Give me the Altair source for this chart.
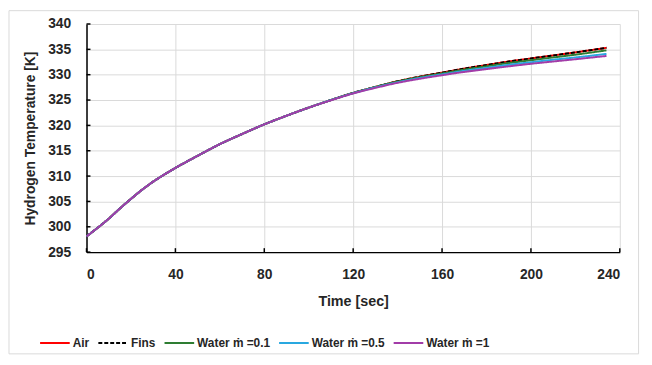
import altair as alt
import pandas as pd

time = [0, 5, 10, 15, 20, 25, 30, 35, 40, 50, 60, 70, 80, 90, 100, 110, 120, 130,
        140, 150, 160, 170, 180, 190, 200, 210, 220, 234]
air = [298.1, 299.8, 301.6, 303.6, 305.5, 307.3, 308.9, 310.3, 311.6, 314.0, 316.3, 318.3,
       320.2, 321.9, 323.5, 325.0, 326.4, 327.6, 328.7, 329.6, 330.4, 331.2, 331.9, 332.6,
       333.2, 333.8, 334.4, 335.3]
fins = [298.1, 299.8, 301.6, 303.6, 305.5, 307.3, 308.9, 310.3, 311.6, 314.0, 316.3, 318.3,
        320.2, 321.9, 323.5, 325.0, 326.4, 327.6, 328.7, 329.6, 330.4, 331.2, 331.9, 332.6,
        333.2, 333.8, 334.4, 335.3]
water_01 = [298.1, 299.8, 301.6, 303.6, 305.5, 307.3, 308.9, 310.3, 311.6, 314.0, 316.3, 318.3,
            320.2, 321.9, 323.5, 325.0, 326.4, 327.6, 328.65, 329.5, 330.25, 331.0, 331.65,
            332.3, 332.85, 333.4, 333.95, 334.8]
water_05 = [298.1, 299.8, 301.6, 303.6, 305.5, 307.3, 308.9, 310.3, 311.6, 314.0, 316.3, 318.3,
            320.2, 321.9, 323.5, 325.0, 326.35, 327.5, 328.5, 329.35, 330.05, 330.75, 331.35,
            331.95, 332.45, 332.95, 333.4, 334.1]
water_1 = [298.1, 299.8, 301.6, 303.6, 305.5, 307.3, 308.9, 310.3, 311.6, 314.0, 316.3, 318.3,
           320.2, 321.9, 323.5, 324.95, 326.3, 327.4, 328.4, 329.2, 329.9, 330.55, 331.1,
           331.65, 332.15, 332.6, 333.05, 333.7]

series_names = ["Air", "Fins", "Water ṁ =0.1", "Water ṁ =0.5", "Water ṁ =1"]
series_values = [air, fins, water_01, water_05, water_1]
series_colors = ["#ff0000", "#000000", "#2e7d32", "#29a8e0", "#a23ca8"]
series_dash = [[1, 0], [4, 2], [1, 0], [1, 0], [1, 0]]

x_ticks = [0, 40, 80, 120, 160, 200, 240]
y_ticks = [295, 300, 305, 310, 315, 320, 325, 330, 335, 340]

rows = []
for name, vals in zip(series_names, series_values):
    for t, v in zip(time, vals):
        rows.append({"series": name, "time": t, "temp": v})
df = pd.DataFrame(rows)

FONT = "Liberation Sans"
W, H = 540, 231

xscale = alt.Scale(domain=[0, 240], nice=False, zero=False)
yscale = alt.Scale(domain=[295, 340], nice=False, zero=False)

xaxis = alt.Axis(values=x_ticks, title="Time [sec]", grid=True, ticks=True, tickSize=0,
                 tickColor="transparent", labelPadding=16, titlePadding=13,
                 domainColor="#000000", domainWidth=1.5, labelOverlap=False,
                 titleFontSize=14.5)
yaxis = alt.Axis(values=y_ticks, title="Hydrogen Temperature [K]", grid=True,
                 ticks=True, tickSize=0, tickColor="transparent", labelPadding=16,
                 titleX=-49.5, titleY=H / 2, titleAlign="center", titleBaseline="bottom",
                 titleAngle=270, domainColor="#000000", domainWidth=1.5,
                 titleFontSize=14, labelOverlap=False)

lines = alt.Chart(df).mark_line(strokeWidth=2, interpolate="monotone").encode(
    x=alt.X("time:Q", scale=xscale, axis=xaxis),
    y=alt.Y("temp:Q", scale=yscale, axis=yaxis),
    color=alt.Color("series:N", scale=alt.Scale(domain=series_names, range=series_colors),
                    legend=alt.Legend(title=None)),
    strokeDash=alt.StrokeDash("series:N",
                              scale=alt.Scale(domain=series_names, range=series_dash),
                              legend=alt.Legend(title=None)),
    order=alt.Order("time:Q"),
)

ytick_df = pd.DataFrame({"v": y_ticks})
xtick_df = pd.DataFrame({"v": x_ticks})

yticks = alt.Chart(ytick_df).mark_rule(color="#000000", strokeWidth=1.5).encode(
    y=alt.Y("v:Q", scale=yscale, axis=yaxis, title="Hydrogen Temperature [K]"),
    x=alt.value(0), x2=alt.value(4))
xticks = alt.Chart(xtick_df).mark_rule(color="#000000", strokeWidth=1.5).encode(
    x=alt.X("v:Q", scale=xscale, axis=xaxis, title="Time [sec]"),
    y=alt.value(H), y2=alt.value(H - 4))

frame = alt.Chart(pd.DataFrame({"a": [0]})).mark_rect(
    fill="#ffffff", fillOpacity=0, stroke="#d9d9d9", strokeWidth=1).encode(
    x=alt.value(-78.5), x2=alt.value(559), y=alt.value(-13.5), y2=alt.value(334))

chart = alt.layer(frame, lines, yticks, xticks).properties(
    width=W, height=H,
    autosize=alt.AutoSizeParams(type="none"),
    padding={"left": 79.5, "top": 14, "right": 24.5, "bottom": 104},
).configure_view(stroke=None).configure_axis(
    labelFont=FONT, labelFontSize=14, labelFontWeight="bold", labelColor="#262626",
    titleFont=FONT, titleFontWeight="bold", titleColor="#262626",
    gridColor="#d9d9d9", gridWidth=1,
).configure_legend(
    orient="none", legendX=-48, legendY=307, direction="horizontal",
    symbolType="stroke", symbolSize=900, symbolStrokeWidth=2,
    labelFont=FONT, labelFontSize=12, labelFontWeight="bold", labelColor="#262626",
    labelOffset=2, columnPadding=5,
)

chart.save("out.html", embed_options={"renderer": "svg", "actions": False})
